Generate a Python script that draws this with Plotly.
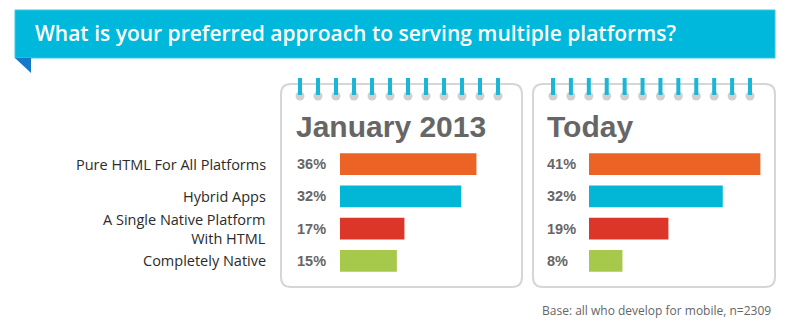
import plotly.graph_objects as go

# ---- data ----
categories = ["Pure HTML For All Platforms", "Hybrid Apps",
              "A Single Native Platform<br>With HTML", "Completely Native"]
jan_2013 = [36, 32, 17, 15]
today = [41, 32, 19, 8]
panel_titles = ["January 2013", "Today"]
bar_colors = ["#EB6426", "#02B7D6", "#DC3629", "#A6C84B"]
title_text = "What is your preferred approach to serving multiple platforms?"
note_text = "Base: all who develop for mobile, n=2309"

W, H = 804, 330
def px(x): return x / W
def py(y): return 1 - y / H

fig = go.Figure()
ycats = list(range(len(categories)))
fig.add_trace(go.Bar(x=jan_2013, y=ycats, orientation="h", marker=dict(color=bar_colors, line=dict(width=0)),
                     xaxis="x", yaxis="y", hoverinfo="skip", showlegend=False))
fig.add_trace(go.Bar(x=today, y=ycats, orientation="h", marker=dict(color=bar_colors, line=dict(width=0)),
                     xaxis="x2", yaxis="y2", hoverinfo="skip", showlegend=False))

ydom = [py(277), py(148)]
axis_common = dict(showgrid=False, zeroline=False, showticklabels=False, showline=False, ticks="", fixedrange=True)
fig.update_layout(
    width=W, height=H, margin=dict(l=0, r=0, t=0, b=0),
    paper_bgcolor="white", plot_bgcolor="rgba(0,0,0,0)",
    bargap=0.32,
    xaxis=dict(domain=[px(340), px(520)], range=[0, 180 / 3.79], **axis_common),
    xaxis2=dict(domain=[px(589), px(775)], range=[0, 186 / 4.18], **axis_common),
    yaxis=dict(domain=ydom, range=[3.5, -0.5], anchor="x", **axis_common),
    yaxis2=dict(domain=ydom, range=[3.5, -0.5], anchor="x2", **axis_common),
)

shapes = []
# banner
shapes.append(dict(type="rect", xref="paper", yref="paper", x0=px(15), x1=px(775), y0=py(58), y1=py(10),
                   fillcolor="#00B8DB", line=dict(color="#3CC6E4", width=1), layer="above"))
shapes.append(dict(type="path", xref="paper", yref="paper",
                   path=f"M {px(15)} {py(58)} L {px(31)} {py(58)} L {px(31)} {py(73)} Z",
                   fillcolor="#1479C8", line=dict(width=0)))

def rounded_box(x0, y0, x1, y1, r):
    p = (f"M {px(x0+r)} {py(y0)} L {px(x1-r)} {py(y0)} Q {px(x1)} {py(y0)} {px(x1)} {py(y0+r)} "
         f"L {px(x1)} {py(y1-r)} Q {px(x1)} {py(y1)} {px(x1-r)} {py(y1)} "
         f"L {px(x0+r)} {py(y1)} Q {px(x0)} {py(y1)} {px(x0)} {py(y1-r)} "
         f"L {px(x0)} {py(y0+r)} Q {px(x0)} {py(y0)} {px(x0+r)} {py(y0)} Z")
    return dict(type="path", xref="paper", yref="paper", path=p, line=dict(color="#D6D6D6", width=2))

for (bx0, bx1, pin0, pin1) in [(281, 522, 300, 498), (533, 775, 553, 750)]:
    shapes.append(rounded_box(bx0, 84, bx1, 287, 10))
    n = 12
    for i in range(n):
        cx = pin0 + (pin1 - pin0) * i / (n - 1)
        shapes.append(dict(type="circle", xref="paper", yref="paper",
                           x0=px(cx - 4.5), x1=px(cx + 4.5), y0=py(100.5), y1=py(91.5),
                           fillcolor="#D0D0D0", line=dict(width=0)))
        shapes.append(dict(type="line", xref="paper", yref="paper",
                           x0=px(cx), x1=px(cx), y0=py(78), y1=py(95),
                           line=dict(color="#1BB5D8", width=4)))
fig.update_layout(shapes=shapes)

ann = []
ann.append(dict(text=title_text, xref="paper", yref="paper", x=px(33), y=py(33), xanchor="left", yanchor="middle",
                showarrow=False, font=dict(family="Open Sans", size=21, color="white", weight=600)))
for title, tx in zip(panel_titles, [294, 545]):
    ann.append(dict(text=title, xref="paper", yref="paper", x=px(tx), y=py(127), xanchor="left", yanchor="middle",
                    showarrow=False, font=dict(family="Liberation Sans", size=30, color="#666666", weight="bold")))
for i, cat in enumerate(categories):
    ann.append(dict(text=cat, xref="paper", yref="y", x=px(268), y=ycats[i], xanchor="right", yanchor="middle",
                    align="right", showarrow=False,
                    font=dict(family="Open Sans", size=14.5, color="#2b2b2b")))
for vals, yr, tx in [(jan_2013, "y", 295), (today, "y2", 545)]:
    for i, v in enumerate(vals):
        ann.append(dict(text=f"{v}%", xref="paper", yref=yr, x=px(tx), y=ycats[i], xanchor="left", yanchor="middle",
                        showarrow=False, font=dict(family="Liberation Sans", size=14.5, color="#666666", weight="bold")))
ann.append(dict(text=note_text, xref="paper", yref="paper", x=px(773), y=py(310), xanchor="right", yanchor="middle",
                showarrow=False, font=dict(family="Open Sans", size=12, color="#666666")))
fig.update_layout(annotations=ann)

fig.write_html("out.html")
